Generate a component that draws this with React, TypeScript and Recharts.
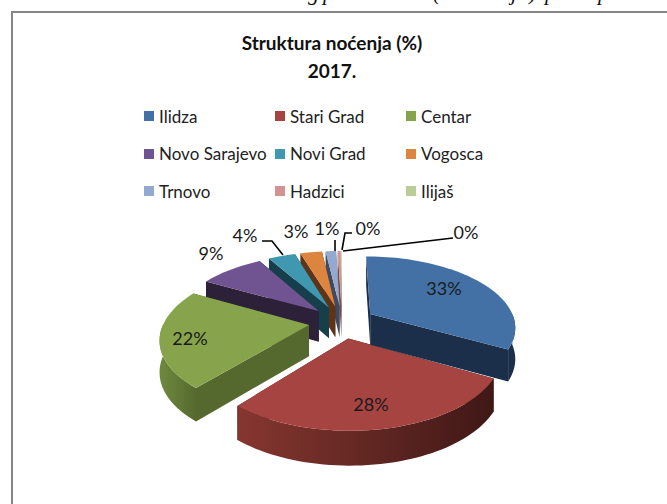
import { PieChart, Pie } from "recharts";

const regions = ["Ilidza", "Stari Grad", "Centar", "Novo Sarajevo", "Novi Grad", "Vogosca", "Trnovo", "Hadzici", "Ilijaš"];
const shares = [33.0, 28.0, 21.9, 8.6, 3.6, 2.9, 1.4, 0.4, 0.1];

const topColors = ["#4371a6", "#a64442", "#87a44c", "#6f5491", "#3f98b0", "#dd843e", "#94a9d0", "#d29392", "#b9cd96"];
const wallLight = ["#1b2f4a", "#86362f", "#6f8a3e", "#2d2139", "#173e4b", "#5e3317", "#3f4a60", "#7a4a49", "#62704a"];
const wallDark = ["#1b2f4a", "#3f1816", "#55692f", "#2d2139", "#173e4b", "#5e3317", "#3f4a60", "#7a4a49", "#62704a"];

// rucno pozicionirane oznake (kao u originalu)
const labelSpots: [number, number][] = [[444, 288], [371, 404], [190, 338], [211, 253], [245, 235], [296, 231], [327, 228], [368, 228], [466, 232]];
const leaderLines: Record<number, string> = {
    4: "262,241 272,241 283,255",
    6: "335,240 335,251",
    7: "352,233 345,233 342,250",
    8: "453,238 343,251",
};

const cutOffText: [string, number][] = [["g", 308], ["p", 323], ["(", 433], ["j", 511], [")", 529], ["p", 545], ["p", 598]];

const FONT = "Lato, sans-serif";
const TILT = 70 / 145;
const PERSPECTIVE = 0.172;
const EXPLODE = 0.23;
const DEPTH = 31;

const pieData = regions.map((name, i) => ({ name, value: shares[i], fill: topColors[i] })).reverse();

function SliceShape(props: any) {
    const { cx, cy, outerRadius: R, startAngle, endAngle, name } = props;
    const idx = regions.indexOf(name);
    let from = 90 - endAngle;
    let to = 90 - startAngle;
    while (from < 0) {
        from += 360;
        to += 360;
    }
    const rad = (d: number) => (d * Math.PI) / 180;
    const mid = rad((from + to) / 2);
    const ox = EXPLODE * Math.sin(mid);
    const oy = -EXPLODE * Math.cos(mid);

    const project = (X: number, Y: number, down: boolean) => {
        const p = 1 / (1 - PERSPECTIVE * Y);
        return [cx + X * R * p, cy + Y * R * TILT * p + (down ? DEPTH * Math.sqrt(p) : 0)];
    };
    const rimPoint = (deg: number, down: boolean) =>
        project(ox + Math.sin(rad(deg)), oy - Math.cos(rad(deg)), down);
    const arc = (a: number, b: number, down: boolean) => {
        const pts = [];
        const steps = Math.max(2, Math.ceil(Math.abs(b - a) / 2));
        for (let i = 0; i <= steps; i++) pts.push(rimPoint(a + ((b - a) * i) / steps, down));
        return pts;
    };
    const poly = (pts: number[][]) => pts.map((p) => p.join(",")).join(" ");

    const apexTop = project(ox, oy, false);
    const apexLow = project(ox, oy, true);
    const rimFrom = Math.max(from, 90);
    const rimTo = Math.min(to, 270);
    const gradId = `wall-${idx}`;

    return (
        <g>
            <defs>
                <linearGradient id={gradId} x1="0" y1="0" x2="1" y2="0">
                    <stop offset="0%" stopColor={wallLight[idx]} />
                    <stop offset="100%" stopColor={wallDark[idx]} />
                </linearGradient>
            </defs>
            <polygon points={poly([apexTop, rimPoint(from, false), rimPoint(from, true), apexLow])} fill={wallDark[idx]} />
            <polygon points={poly([apexTop, rimPoint(to, false), rimPoint(to, true), apexLow])} fill={wallDark[idx]} />
            {rimTo > rimFrom && (
                <polygon
                    points={poly([...arc(rimFrom, rimTo, false), ...arc(rimTo, rimFrom, true)])}
                    fill={`url(#${gradId})`}
                />
            )}
            <polygon points={poly([apexTop, ...arc(from, to, false)])} fill={topColors[idx]} />
        </g>
    );
}

function SliceLabel(props: any) {
    const idx = regions.indexOf(props.name);
    const [x, y] = labelSpots[idx];
    return (
        <g>
            {leaderLines[idx] && <polyline points={leaderLines[idx]} fill="none" stroke="#000" strokeWidth={1.6} />}
            <text x={x} y={y} textAnchor="middle" dominantBaseline="central" fontFamily={FONT} fontSize={18} fill="#1a1a1a">
                {Math.round(shares[idx])}%
            </text>
        </g>
    );
}

export default function App() {
    return (
        <div style={{ position: "fixed", left: 0, top: 0, width: 667, height: 504, overflow: "hidden", background: "#fff" }}>
            {cutOffText.map(([ch, x], i) => (
                <span
                    key={i}
                    style={{ position: "absolute", left: x, top: -19, fontFamily: "Liberation Serif", fontStyle: "italic", fontSize: 22, lineHeight: "24px", color: "#111" }}
                >
                    {ch}
                </span>
            ))}
            <div style={{ position: "absolute", left: 11, top: 11, width: 656, height: 2, background: "#868686" }} />
            <div style={{ position: "absolute", left: 11, top: 11, width: 2, height: 493, background: "#868686" }} />

            <div style={{ position: "absolute", left: 132, width: 400, top: 29, textAlign: "center", fontFamily: FONT, fontWeight: 700, fontSize: 19, lineHeight: "28px", color: "#111" }}>
                Struktura noćenja (%)
                <br />
                2017.
            </div>

            {regions.map((name, i) => (
                <div
                    key={name}
                    style={{ position: "absolute", left: 144 + (i % 3) * 131, top: 103 + Math.floor(i / 3) * 37.5, height: 26, display: "flex", alignItems: "center", fontFamily: FONT, fontSize: 17, color: "#222", whiteSpace: "nowrap" }}
                >
                    <span style={{ width: 10, height: 10, background: topColors[i], marginRight: 5 }} />
                    {name}
                </div>
            ))}

            <div style={{ position: "absolute", left: 0, top: 0 }}>
                <PieChart width={667} height={504} margin={{ top: 0, right: 0, bottom: 0, left: 0 }}>
                    <Pie
                        data={pieData}
                        dataKey="value"
                        nameKey="name"
                        cx={342}
                        cy={322}
                        outerRadius={145}
                        startAngle={90}
                        endAngle={450}
                        stroke="none"
                        shape={SliceShape}
                        label={SliceLabel}
                        labelLine={false}
                        isAnimationActive={false}
                    />
                </PieChart>
            </div>
        </div>
    );
}
